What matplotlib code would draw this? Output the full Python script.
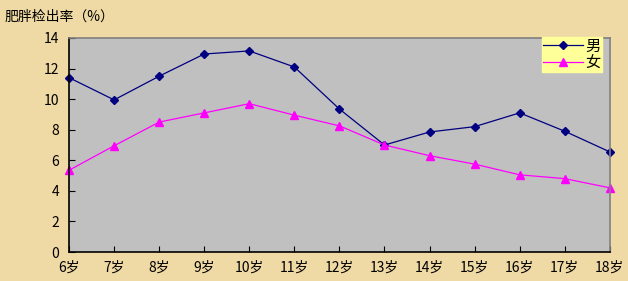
import numpy as np
import matplotlib
matplotlib.use("Agg")
from matplotlib import pyplot as plt

plt.rcParams['font.family'] = ['Noto Sans CJK SC', 'DejaVu Sans']

# data
ages = ['6岁', '7岁', '8岁', '9岁', '10岁', '11岁', '12岁', '13岁', '14岁', '15岁', '16岁', '17岁', '18岁']
male = [11.4, 9.95, 11.5, 12.95, 13.15, 12.1, 9.35, 7.0, 7.85, 8.2, 9.1, 7.9, 6.55]
female = [5.35, 6.95, 8.5, 9.1, 9.7, 8.95, 8.25, 7.0, 6.3, 5.75, 5.05, 4.8, 4.2]
yticks = [0, 2, 4, 6, 8, 10, 12, 14]

fig = plt.figure(figsize=(6.28, 2.81), dpi=100)
fig.patch.set_facecolor('#EFD9A4')
ax = fig.add_axes([0.110, 0.103, 0.861, 0.762])
ax.set_facecolor('#C0C0C0')

x = np.arange(len(ages))
ax.plot(x, male, color='#000080', lw=0.9, marker='D', ms=4, label='男', clip_on=False)
ax.plot(x, female, color='#FF00FF', lw=0.9, marker='^', ms=5.5, label='女', clip_on=False)

ax.set_xlim(0, len(ages) - 1)
ax.set_ylim(0, 14)
ax.set_xticks(x)
ax.set_xticklabels(ages)
ax.set_yticks(yticks)
ax.tick_params(direction='in', length=4, width=0.8, labelsize=10, colors='black')
ax.tick_params(axis='x', pad=6)
ax.tick_params(axis='y', pad=7)

for s in ['left', 'bottom']:
    ax.spines[s].set_color('black')
    ax.spines[s].set_linewidth(1.2)
for s in ['top', 'right']:
    ax.spines[s].set_color('#808080')
    ax.spines[s].set_linewidth(1.2)

leg = ax.legend(loc='upper right', bbox_to_anchor=(0.985, 1.005), frameon=True, fancybox=False,
                framealpha=1, edgecolor='#FFFF99', facecolor='#FFFF99', fontsize=11,
                handlelength=2.6, handletextpad=0.2, borderpad=0.05, labelspacing=0.0,
                borderaxespad=0)

fig.text(0.008, 0.94, '肥胖检出率（%）', fontsize=10, ha='left', va='center')

fig.savefig('out.png', dpi=100, facecolor=fig.get_facecolor())
